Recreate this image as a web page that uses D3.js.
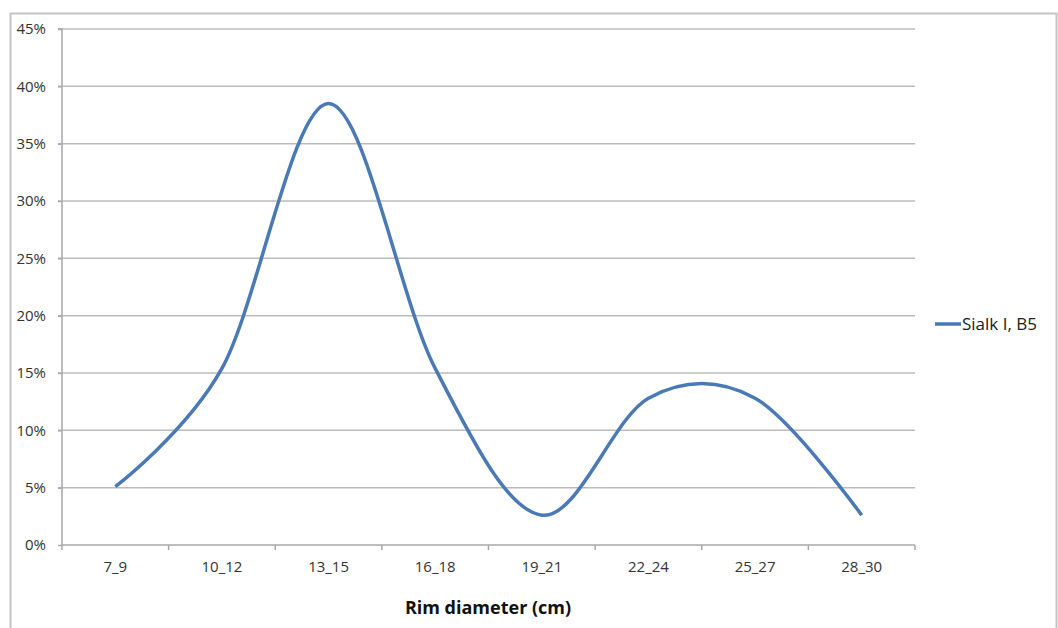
<!DOCTYPE html>
<html><head><meta charset="utf-8">
<script src="https://cdn.jsdelivr.net/npm/d3@7"></script>
<style>
html,body{margin:0;padding:0;background:#fff;overflow:hidden;}
svg{display:block;font-family:"Open Sans",sans-serif;}
</style></head>
<body>
<script>
const categories = ["7_9","10_12","13_15","16_18","19_21","22_24","25_27","28_30"];
const seriesName = "Sialk I, B5";
const values = [0.051, 0.154, 0.385, 0.154, 0.026, 0.128, 0.128, 0.026];
const yTicks = [0,0.05,0.10,0.15,0.20,0.25,0.30,0.35,0.40,0.45];
const xTitle = "Rim diameter (cm)";

(function(){
const W = 1058, H = 628;
const FONT = "'Open Sans',sans-serif";
const svg = d3.select("body").append("svg").attr("width", W).attr("height", H);

// outer frame
svg.append("rect").attr("x",10.5).attr("y",13.5).attr("width",1046).attr("height",640)
  .attr("fill","none").attr("stroke","#c4c4c4").attr("stroke-width",2);

const pLeft = 62, pRight = 915, pTop = 29, pBottom = 545;
const x = d3.scaleBand().domain(categories).range([pLeft, pRight]).padding(0);
const y = d3.scaleLinear().domain([0, 0.45]).range([pBottom, pTop]);

// gridlines
svg.append("g").selectAll("line").data(yTicks.filter(d=>d>0)).join("line")
  .attr("x1", pLeft-4).attr("x2", pRight).attr("y1", d=>y(d)).attr("y2", d=>y(d))
  .attr("stroke","#bcbcbc").attr("stroke-width",1.5);

// y axis
const yAxis = d3.axisLeft(y).tickValues(yTicks).tickFormat(d3.format(".0%")).tickSize(4).tickPadding(12);
const gy = svg.append("g").attr("transform",`translate(${pLeft},0)`).call(yAxis);
gy.select(".domain").attr("stroke","#a8a8a8").attr("stroke-width",1.5).attr("d",`M-4,${pTop}H0V${pBottom}`);
gy.selectAll(".tick line").attr("stroke","#a8a8a8").attr("stroke-width",1.5);
gy.selectAll(".tick text").attr("fill","#333").style("font-size","15px").style("font-family",FONT);

// x axis
const xAxis = d3.axisBottom(x).tickSize(0).tickPadding(16);
const gx = svg.append("g").attr("transform",`translate(0,${pBottom})`).call(xAxis);
gx.select(".domain").attr("stroke","#a8a8a8").attr("stroke-width",1.5).attr("d",`M${pLeft},0H${pRight}`);
gx.selectAll(".tick text").attr("fill","#333").style("font-size","15px").style("font-family",FONT);
const bounds = categories.map(c=>x(c)).concat([pRight]);
gx.append("g").selectAll("line").data(bounds).join("line")
  .attr("x1",d=>d).attr("x2",d=>d).attr("y1",0).attr("y2",5)
  .attr("stroke","#a8a8a8").attr("stroke-width",1.5);

// line
const line = d3.line()
  .x((d,i)=>x(categories[i]) + x.bandwidth()/2)
  .y(d=>y(d))
  .curve(d3.curveCatmullRom.alpha(0));
svg.append("path").datum(values).attr("d", line)
  .attr("fill","none").attr("stroke","#4a7ab5").attr("stroke-width",3.5).attr("stroke-linecap","butt");

// x title
svg.append("text").attr("x", 488).attr("y", 614).attr("text-anchor","middle")
  .style("font-size","18px").style("font-weight","bold").style("font-family",FONT).attr("fill","#111").text(xTitle);

// legend
svg.append("line").attr("x1",935).attr("x2",961).attr("y1",324).attr("y2",324)
  .attr("stroke","#4a7ab5").attr("stroke-width",3.5);
svg.append("text").attr("x",962).attr("y",330).style("font-size","17px").style("font-family",FONT).attr("fill","#222").text(seriesName);
})();
</script>
</body></html>
